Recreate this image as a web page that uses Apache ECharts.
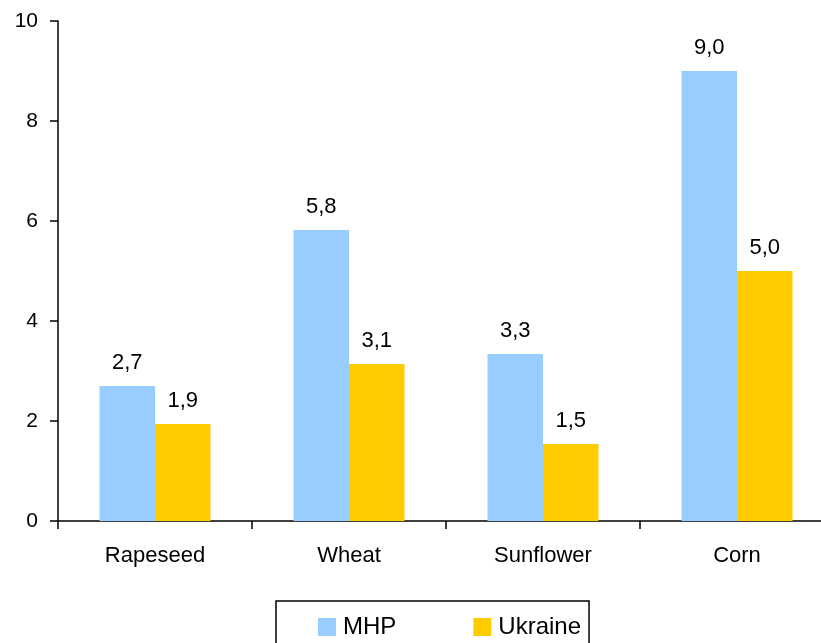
<!DOCTYPE html>
<html>
<head>
<meta charset="utf-8">
<script src="https://cdn.jsdelivr.net/npm/echarts@6/dist/echarts.min.js"></script>
<style>
html,body{margin:0;padding:0;background:#fff;}
#chart{width:821px;height:643px;}
</style>
</head>
<body>
<div id="chart"></div>
<script>
const categories = ['Rapeseed', 'Wheat', 'Sunflower', 'Corn'];
const mhpValues = [2.7, 5.82, 3.34, 9.0];
const ukraineValues = [1.94, 3.14, 1.54, 5.0];
const seriesNames = ['MHP', 'Ukraine'];

const chart = echarts.init(document.getElementById('chart'), null, {renderer: 'canvas'});
const fontFamily = 'Liberation Sans, Arial, sans-serif';
const labelCfg = {
  show: true,
  position: 'top',
  distance: 12,
  color: '#000',
  fontSize: 22,
  fontFamily: fontFamily,
  formatter: p => p.value.toFixed(1).replace('.', ',')
};
chart.setOption({
  animation: false,
  backgroundColor: '#fff',
  grid: {left: 58, top: 21, width: 776, bottom: 122, containLabel: false, outerBoundsMode: 'none'},
  legend: {
    left: 276,
    top: 601,
    padding: [14, 8, 30, 42],
    borderColor: '#000',
    borderWidth: 1.5,
    itemWidth: 18,
    itemHeight: 18,
    itemGap: 77,
    icon: 'rect',
    textStyle: {fontSize: 24, color: '#000', fontFamily: fontFamily, padding: [0, 0, 0, 2]},
    data: seriesNames
  },
  xAxis: {
    type: 'category',
    data: categories,
    axisLine: {lineStyle: {color: '#000', width: 1.5}},
    axisTick: {show: true, length: 8, lineStyle: {color: '#000', width: 1.5}},
    axisLabel: {color: '#000', fontSize: 22, fontFamily: fontFamily, margin: 24}
  },
  yAxis: {
    type: 'value',
    min: 0,
    max: 10,
    interval: 2,
    splitLine: {show: false},
    axisLine: {show: true, lineStyle: {color: '#000', width: 1.5}},
    axisTick: {show: true, length: 8, lineStyle: {color: '#000', width: 1.5}},
    axisLabel: {color: '#000', fontSize: 21, fontFamily: fontFamily, margin: 20}
  },
  series: [
    {
      name: seriesNames[0],
      type: 'bar',
      data: mhpValues,
      barWidth: 55.5,
      barGap: '0%',
      itemStyle: {color: '#99CCFF'},
      label: labelCfg
    },
    {
      name: seriesNames[1],
      type: 'bar',
      data: ukraineValues,
      barWidth: 55.5,
      barGap: '0%',
      itemStyle: {color: '#FFCC00'},
      label: labelCfg
    }
  ]
});
</script>
</body>
</html>
